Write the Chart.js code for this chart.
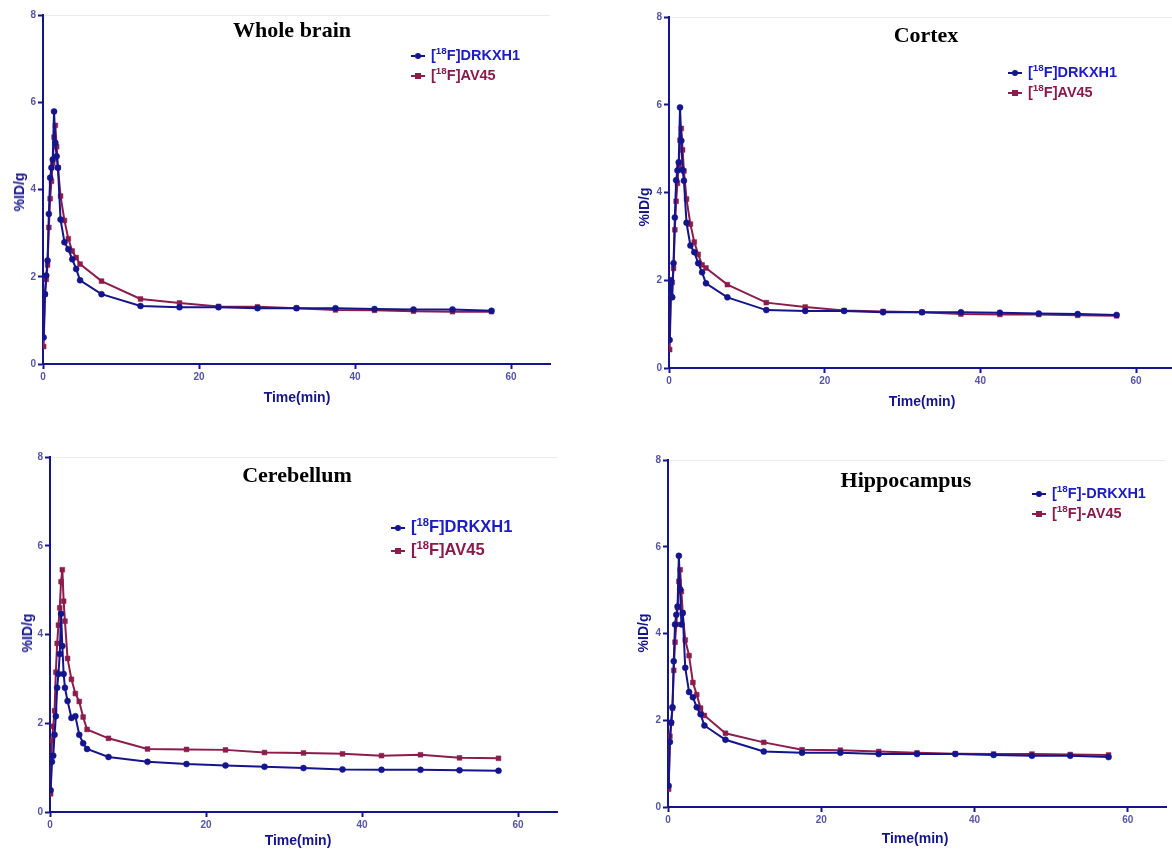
<!DOCTYPE html>
<html>
<head>
<meta charset="utf-8">
<script src="https://cdn.jsdelivr.net/npm/chart.js@4.4.0/dist/chart.umd.min.js"></script>
<style>
  html, body { margin: 0; padding: 0; background: #fff; overflow: hidden; }
  body { width: 1172px; height: 853px; position: relative; font-family: Arial, "Liberation Sans", sans-serif; }
  canvas { position: absolute; }
  .title { position: absolute; font-family: "Times New Roman", "Liberation Serif", serif; font-weight: bold; font-size: 22px; color: #000; white-space: nowrap; transform: translateX(-50%); }
  .xt { position: absolute; font-weight: bold; font-size: 14px; color: #14148c; white-space: nowrap; transform: translateX(-50%); }
  .yt { position: absolute; font-weight: bold; font-size: 14px; color: #14148c; white-space: nowrap; transform: translate(-50%, -50%) rotate(-90deg); }
  .leg { position: absolute; font-weight: bold; font-size: 14.5px; white-space: nowrap; line-height: 20px; }
  .leg.big { font-size: 16.5px; line-height: 23px; }
  .leg sup { font-size: 68%; vertical-align: 6px; line-height: 0; }
  .mk { display: inline-block; position: relative; width: 14px; height: 10px; margin-right: 6px; vertical-align: -1px; }
  .mk::before { content: ''; position: absolute; left: 0; right: 0; top: 4px; height: 2px; background: var(--c); }
  .mk i { position: absolute; left: 4px; top: 2px; width: 6px; height: 6px; background: var(--c); }
  .mk.c i { border-radius: 50%; }
  .b { color: #1c1cc4; }
  .r { color: #8a1a4c; }
</style>
</head>
<body>

<canvas id="c1"></canvas>
<canvas id="c2"></canvas>
<canvas id="c3"></canvas>
<canvas id="c4"></canvas>

<div class="title" style="left:292px;top:17px">Whole brain</div>
<div class="title" style="left:926px;top:22px">Cortex</div>
<div class="title" style="left:297px;top:462px">Cerebellum</div>
<div class="title" style="left:906px;top:467px">Hippocampus</div>

<div class="leg" style="left:411px;top:45px">
  <div class="b"><span class="mk c" style="--c:#14148c"><i></i></span>[<sup>18</sup>F]DRKXH1</div>
  <div class="r"><span class="mk" style="--c:#8c1c4c"><i></i></span>[<sup>18</sup>F]AV45</div>
</div>
<div class="leg" style="left:1008px;top:62px">
  <div class="b"><span class="mk c" style="--c:#14148c"><i></i></span>[<sup>18</sup>F]DRKXH1</div>
  <div class="r"><span class="mk" style="--c:#8c1c4c"><i></i></span>[<sup>18</sup>F]AV45</div>
</div>
<div class="leg big" style="left:391px;top:515px">
  <div class="b"><span class="mk c" style="--c:#14148c"><i></i></span>[<sup>18</sup>F]DRKXH1</div>
  <div class="r"><span class="mk" style="--c:#8c1c4c"><i></i></span>[<sup>18</sup>F]AV45</div>
</div>
<div class="leg" style="left:1032px;top:483px">
  <div class="b"><span class="mk c" style="--c:#14148c"><i></i></span>[<sup>18</sup>F]-DRKXH1</div>
  <div class="r"><span class="mk" style="--c:#8c1c4c"><i></i></span>[<sup>18</sup>F]-AV45</div>
</div>

<div class="xt" style="left:297px;top:389px">Time(min)</div>
<div class="xt" style="left:922px;top:393px">Time(min)</div>
<div class="xt" style="left:298px;top:832px">Time(min)</div>
<div class="xt" style="left:915px;top:830px">Time(min)</div>

<div class="yt" style="left:19px;top:192px">%ID/g</div>
<div class="yt" style="left:644px;top:207px">%ID/g</div>
<div class="yt" style="left:27px;top:633px">%ID/g</div>
<div class="yt" style="left:643px;top:633px">%ID/g</div>

<script>
// frame mid times (min)
const times = [0.083, 0.25, 0.417, 0.583, 0.75, 0.917, 1.083, 1.25, 1.417, 1.583, 1.75, 1.917,
    2.25, 2.75, 3.25, 3.75, 4.25, 4.75, 7.5,
    12.5, 17.5, 22.5, 27.5, 32.5, 37.5, 42.5, 47.5, 52.5, 57.5];

const xTicks = [0, 20, 40, 60];
const yTicks = [0, 2, 4, 6, 8];

const wholeBrainDRKXH1 = [0.61, 1.6, 2.03, 2.37, 3.44, 4.27, 4.5, 4.69, 5.79, 5.07, 4.76, 4.5,
    3.31, 2.79, 2.63, 2.4, 2.18, 1.92, 1.6,
    1.33, 1.30, 1.30, 1.28, 1.28, 1.28, 1.26, 1.25, 1.25, 1.22];
const wholeBrainAV45 = [0.4, 1.6, 1.94, 2.27, 3.13, 3.79, 4.19, 4.6, 5.2, 5.47, 4.98, 4.5,
    3.85, 3.29, 2.87, 2.59, 2.44, 2.29, 1.9,
    1.49, 1.40, 1.32, 1.31, 1.28, 1.24, 1.23, 1.21, 1.20, 1.20];

const cortexDRKXH1 = [0.64, 2.0, 1.61, 2.39, 3.43, 4.28, 4.5, 4.69, 5.94, 5.18, 4.51, 4.27,
    3.31, 2.79, 2.64, 2.39, 2.18, 1.93, 1.61,
    1.32, 1.30, 1.30, 1.27, 1.27, 1.27, 1.26, 1.24, 1.23, 1.21];
const cortexAV45 = [0.42, 1.63, 1.95, 2.27, 3.15, 3.8, 4.21, 4.61, 5.19, 5.46, 4.97, 4.49,
    3.85, 3.28, 2.87, 2.59, 2.35, 2.28, 1.90,
    1.49, 1.39, 1.31, 1.29, 1.27, 1.23, 1.22, 1.22, 1.20, 1.19];

const cerebellumDRKXH1 = [0.49, 1.13, 1.27, 1.74, 2.16, 2.8, 3.11, 3.56, 4.47, 3.74, 3.11, 2.8,
    2.5, 2.12, 2.16, 1.74, 1.55, 1.42, 1.24,
    1.13, 1.08, 1.05, 1.02, 0.99, 0.96, 0.95, 0.95, 0.94, 0.93];
const cerebellumAV45 = [0.41, 1.61, 1.93, 2.28, 3.15, 3.8, 4.21, 4.6, 5.19, 5.46, 4.75, 4.3,
    3.46, 2.99, 2.67, 2.49, 2.14, 1.86, 1.66,
    1.42, 1.41, 1.40, 1.34, 1.33, 1.31, 1.27, 1.29, 1.22, 1.21];

const hippocampusDRKXH1 = [0.49, 1.5, 1.95, 2.3, 3.36, 4.21, 4.43, 4.62, 5.79, 5.02, 4.21, 4.47,
    3.21, 2.65, 2.53, 2.3, 2.14, 1.88, 1.55,
    1.28, 1.25, 1.25, 1.22, 1.22, 1.22, 1.20, 1.18, 1.18, 1.15];
const hippocampusAV45 = [0.41, 1.63, 1.93, 2.28, 3.15, 3.8, 4.21, 4.6, 5.2, 5.47, 4.97, 4.48,
    3.85, 3.49, 2.87, 2.59, 2.28, 2.11, 1.70,
    1.49, 1.32, 1.31, 1.28, 1.25, 1.23, 1.22, 1.22, 1.21, 1.20];

const NAVY = '#14148c';
const MAROON = '#8c1c4c';
const TICKCOL = '#5555a5';

const Y_W = 30, X_H = 25, PAD = 10;

function toPoints(vals) {
    return times.map((t, i) => ({ x: t, y: vals[i] }));
}

// box = plot area in page pixels
function makePanel(id, box, blueVals, redVals) {
    const canvas = document.getElementById(id);
    const w = (box.right - box.left) + Y_W + 2 * PAD;
    const h = (box.bottom - box.top) + X_H + 2 * PAD;
    canvas.width = w;
    canvas.height = h;
    canvas.style.left = (box.left - Y_W - PAD) + 'px';
    canvas.style.top = (box.top - PAD) + 'px';

    new Chart(canvas.getContext('2d'), {
        type: 'line',
        data: {
            datasets: [
                {
                    label: 'DRKXH1',
                    data: toPoints(blueVals),
                    borderColor: NAVY,
                    backgroundColor: NAVY,
                    borderWidth: 2,
                    pointStyle: 'circle',
                    pointRadius: 3,
                    pointBorderWidth: 0.5,
                    fill: false,
                    tension: 0,
                },
                {
                    label: 'AV45',
                    data: toPoints(redVals),
                    borderColor: MAROON,
                    backgroundColor: MAROON,
                    borderWidth: 2,
                    pointStyle: 'rect',
                    pointRadius: 3.4,
                    pointBorderWidth: 0.5,
                    fill: false,
                    tension: 0,
                },
            ],
        },
        options: {
            responsive: false,
            animation: false,
            layout: { padding: PAD },
            plugins: { legend: { display: false }, tooltip: { enabled: false } },
            scales: {
                x: {
                    type: 'linear',
                    min: 0,
                    max: 65,
                    afterFit: (s) => { s.height = X_H; },
                    afterBuildTicks: (s) => { s.ticks = xTicks.map(v => ({ value: v })); },
                    border: { color: NAVY, width: 2 },
                    grid: { color: 'transparent', tickColor: NAVY, tickLength: 5, tickWidth: 2 },
                    ticks: { color: TICKCOL, font: { size: 10, weight: 'bold', family: 'Arial, "Liberation Sans"' }, padding: 2, maxRotation: 0 },
                },
                y: {
                    min: 0,
                    max: 8,
                    afterFit: (s) => { s.width = Y_W; },
                    afterBuildTicks: (s) => { s.ticks = yTicks.map(v => ({ value: v })); },
                    border: { color: NAVY, width: 2 },
                    grid: {
                        color: (ctx) => (ctx.tick && ctx.tick.value === 8) ? '#ececec' : 'transparent',
                        tickColor: NAVY, tickLength: 5, tickWidth: 2, lineWidth: 1,
                    },
                    ticks: { color: TICKCOL, font: { size: 10, weight: 'bold', family: 'Arial, "Liberation Sans"' }, padding: 2 },
                },
            },
        },
    });
}

makePanel('c1', { left: 43, right: 550, top: 15, bottom: 364 }, wholeBrainDRKXH1, wholeBrainAV45);
makePanel('c2', { left: 669, right: 1175, top: 17, bottom: 368 }, cortexDRKXH1, cortexAV45);
makePanel('c3', { left: 50, right: 557, top: 457, bottom: 812 }, cerebellumDRKXH1, cerebellumAV45);
makePanel('c4', { left: 668, right: 1166, top: 460, bottom: 807 }, hippocampusDRKXH1, hippocampusAV45);
</script>
</body>
</html>
